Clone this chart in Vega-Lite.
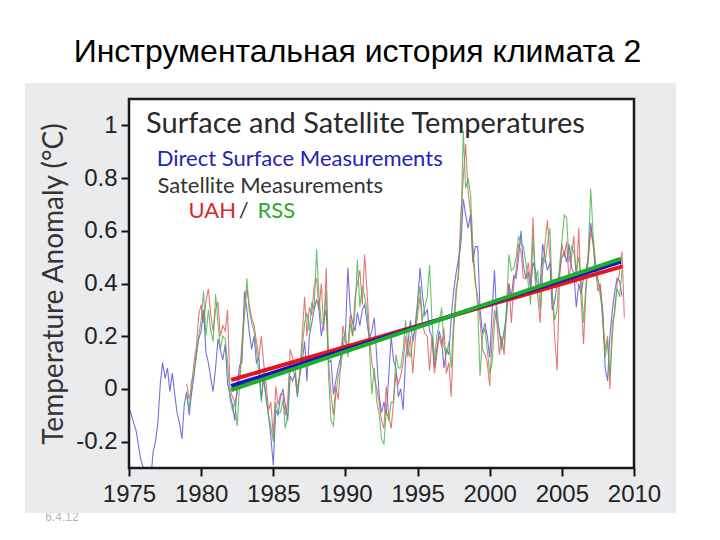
{
"$schema": "https://vega.github.io/schema/vega-lite/v6.json",
"width": 505, "height": 369,
"autosize": "none",
"padding": {"left": 129, "top": 99, "right": 86, "bottom": 72},
"background": "white",
"config": {"view": {"stroke": null}, "font": "Liberation Sans"},
"title": {"text": "Инструментальная история климата 2", "fontSize": 32, "font": "Liberation Sans", "fontWeight": "normal", "color": "#000000", "anchor": "middle", "dx": -24, "offset": 14},
"data": {"values": [{}]},
"datasets": {
"series": [
{"s":"Surface","t":1975.0,"v":-0.07},{"s":"Surface","t":1975.17,"v":-0.10},{"s":"Surface","t":1975.33,"v":-0.13},{"s":"Surface","t":1975.5,"v":-0.16},{"s":"Surface","t":1975.67,"v":-0.22},{"s":"Surface","t":1975.83,"v":-0.27},
{"s":"Surface","t":1976.0,"v":-0.30},{"s":"Surface","t":1976.17,"v":-0.36},{"s":"Surface","t":1976.33,"v":-0.31},{"s":"Surface","t":1976.5,"v":-0.35},{"s":"Surface","t":1976.67,"v":-0.24},{"s":"Surface","t":1976.83,"v":-0.20},
{"s":"Surface","t":1977.0,"v":-0.13},{"s":"Surface","t":1977.17,"v":0.02},{"s":"Surface","t":1977.33,"v":0.10},{"s":"Surface","t":1977.5,"v":0.04},{"s":"Surface","t":1977.67,"v":0.08},{"s":"Surface","t":1977.83,"v":-0.01},
{"s":"Surface","t":1978.0,"v":0.06},{"s":"Surface","t":1978.17,"v":-0.02},{"s":"Surface","t":1978.33,"v":-0.09},{"s":"Surface","t":1978.5,"v":-0.13},{"s":"Surface","t":1978.67,"v":-0.19},{"s":"Surface","t":1978.83,"v":-0.06},
{"s":"Surface","t":1979.0,"v":-0.01},{"s":"Surface","t":1979.17,"v":-0.10},{"s":"Surface","t":1979.33,"v":-0.02},{"s":"Surface","t":1979.5,"v":0.05},{"s":"Surface","t":1979.67,"v":0.14},{"s":"Surface","t":1979.83,"v":0.19},
{"s":"Surface","t":1980.0,"v":0.22},{"s":"Surface","t":1980.17,"v":0.30},{"s":"Surface","t":1980.33,"v":0.14},{"s":"Surface","t":1980.5,"v":0.10},{"s":"Surface","t":1980.67,"v":0.04},{"s":"Surface","t":1980.83,"v":-0.01},
{"s":"Surface","t":1981.0,"v":0.08},{"s":"Surface","t":1981.17,"v":0.19},{"s":"Surface","t":1981.33,"v":0.15},{"s":"Surface","t":1981.5,"v":0.11},{"s":"Surface","t":1981.67,"v":0.17},{"s":"Surface","t":1981.83,"v":0.02},
{"s":"Surface","t":1982.0,"v":-0.02},{"s":"Surface","t":1982.17,"v":-0.06},{"s":"Surface","t":1982.33,"v":-0.12},{"s":"Surface","t":1982.5,"v":0.02},{"s":"Surface","t":1982.67,"v":0.09},{"s":"Surface","t":1982.83,"v":0.10},
{"s":"Surface","t":1983.0,"v":0.37},{"s":"Surface","t":1983.17,"v":0.30},{"s":"Surface","t":1983.33,"v":0.22},{"s":"Surface","t":1983.5,"v":0.15},{"s":"Surface","t":1983.67,"v":0.20},{"s":"Surface","t":1983.83,"v":0.10},
{"s":"Surface","t":1984.0,"v":0.12},{"s":"Surface","t":1984.17,"v":-0.04},{"s":"Surface","t":1984.33,"v":0.04},{"s":"Surface","t":1984.5,"v":-0.03},{"s":"Surface","t":1984.67,"v":-0.10},{"s":"Surface","t":1984.83,"v":-0.18},
{"s":"Surface","t":1985.0,"v":-0.29},{"s":"Surface","t":1985.17,"v":-0.08},{"s":"Surface","t":1985.33,"v":-0.10},{"s":"Surface","t":1985.5,"v":-0.03},{"s":"Surface","t":1985.67,"v":0.00},{"s":"Surface","t":1985.83,"v":-0.06},
{"s":"Surface","t":1986.0,"v":-0.12},{"s":"Surface","t":1986.17,"v":0.05},{"s":"Surface","t":1986.33,"v":0.03},{"s":"Surface","t":1986.5,"v":0.06},{"s":"Surface","t":1986.67,"v":-0.03},{"s":"Surface","t":1986.83,"v":0.05},
{"s":"Surface","t":1987.0,"v":0.10},{"s":"Surface","t":1987.17,"v":0.18},{"s":"Surface","t":1987.33,"v":0.03},{"s":"Surface","t":1987.5,"v":0.20},{"s":"Surface","t":1987.67,"v":0.25},{"s":"Surface","t":1987.83,"v":0.30},
{"s":"Surface","t":1988.0,"v":0.34},{"s":"Surface","t":1988.17,"v":0.30},{"s":"Surface","t":1988.33,"v":0.20},{"s":"Surface","t":1988.5,"v":0.26},{"s":"Surface","t":1988.67,"v":0.30},{"s":"Surface","t":1988.83,"v":0.10},
{"s":"Surface","t":1989.0,"v":0.11},{"s":"Surface","t":1989.17,"v":-0.02},{"s":"Surface","t":1989.33,"v":0.03},{"s":"Surface","t":1989.5,"v":0.08},{"s":"Surface","t":1989.67,"v":0.12},{"s":"Surface","t":1989.83,"v":0.19},
{"s":"Surface","t":1990.0,"v":0.21},{"s":"Surface","t":1990.17,"v":0.46},{"s":"Surface","t":1990.33,"v":0.30},{"s":"Surface","t":1990.5,"v":0.25},{"s":"Surface","t":1990.67,"v":0.22},{"s":"Surface","t":1990.83,"v":0.29},
{"s":"Surface","t":1991.0,"v":0.24},{"s":"Surface","t":1991.17,"v":0.30},{"s":"Surface","t":1991.33,"v":0.32},{"s":"Surface","t":1991.5,"v":0.25},{"s":"Surface","t":1991.67,"v":0.19},{"s":"Surface","t":1991.83,"v":0.22},
{"s":"Surface","t":1992.0,"v":0.27},{"s":"Surface","t":1992.17,"v":0.12},{"s":"Surface","t":1992.33,"v":-0.02},{"s":"Surface","t":1992.5,"v":-0.09},{"s":"Surface","t":1992.67,"v":-0.05},{"s":"Surface","t":1992.83,"v":-0.10},
{"s":"Surface","t":1993.0,"v":0.05},{"s":"Surface","t":1993.17,"v":0.20},{"s":"Surface","t":1993.33,"v":0.11},{"s":"Surface","t":1993.5,"v":0.08},{"s":"Surface","t":1993.67,"v":-0.03},{"s":"Surface","t":1993.83,"v":0.00},
{"s":"Surface","t":1994.0,"v":-0.08},{"s":"Surface","t":1994.17,"v":0.12},{"s":"Surface","t":1994.33,"v":0.17},{"s":"Surface","t":1994.5,"v":0.26},{"s":"Surface","t":1994.67,"v":0.18},{"s":"Surface","t":1994.83,"v":0.24},
{"s":"Surface","t":1995.0,"v":0.33},{"s":"Surface","t":1995.17,"v":0.46},{"s":"Surface","t":1995.33,"v":0.36},{"s":"Surface","t":1995.5,"v":0.28},{"s":"Surface","t":1995.67,"v":0.30},{"s":"Surface","t":1995.83,"v":0.22},
{"s":"Surface","t":1996.0,"v":0.20},{"s":"Surface","t":1996.17,"v":0.08},{"s":"Surface","t":1996.33,"v":0.15},{"s":"Surface","t":1996.5,"v":0.22},{"s":"Surface","t":1996.67,"v":0.18},{"s":"Surface","t":1996.83,"v":0.08},
{"s":"Surface","t":1997.0,"v":0.15},{"s":"Surface","t":1997.17,"v":0.13},{"s":"Surface","t":1997.33,"v":0.27},{"s":"Surface","t":1997.5,"v":0.37},{"s":"Surface","t":1997.67,"v":0.44},{"s":"Surface","t":1997.83,"v":0.49},
{"s":"Surface","t":1998.0,"v":0.55},{"s":"Surface","t":1998.17,"v":0.72},{"s":"Surface","t":1998.33,"v":0.66},{"s":"Surface","t":1998.5,"v":0.61},{"s":"Surface","t":1998.67,"v":0.66},{"s":"Surface","t":1998.83,"v":0.48},
{"s":"Surface","t":1999.0,"v":0.54},{"s":"Surface","t":1999.17,"v":0.54},{"s":"Surface","t":1999.33,"v":0.30},{"s":"Surface","t":1999.5,"v":0.21},{"s":"Surface","t":1999.67,"v":0.25},{"s":"Surface","t":1999.83,"v":0.20},
{"s":"Surface","t":2000.0,"v":0.12},{"s":"Surface","t":2000.17,"v":0.30},{"s":"Surface","t":2000.33,"v":0.45},{"s":"Surface","t":2000.5,"v":0.26},{"s":"Surface","t":2000.67,"v":0.22},{"s":"Surface","t":2000.83,"v":0.16},
{"s":"Surface","t":2001.0,"v":0.22},{"s":"Surface","t":2001.17,"v":0.28},{"s":"Surface","t":2001.33,"v":0.40},{"s":"Surface","t":2001.5,"v":0.35},{"s":"Surface","t":2001.67,"v":0.43},{"s":"Surface","t":2001.83,"v":0.42},
{"s":"Surface","t":2002.0,"v":0.50},{"s":"Surface","t":2002.17,"v":0.60},{"s":"Surface","t":2002.33,"v":0.47},{"s":"Surface","t":2002.5,"v":0.42},{"s":"Surface","t":2002.67,"v":0.44},{"s":"Surface","t":2002.83,"v":0.38},
{"s":"Surface","t":2003.0,"v":0.48},{"s":"Surface","t":2003.17,"v":0.45},{"s":"Surface","t":2003.33,"v":0.38},{"s":"Surface","t":2003.5,"v":0.40},{"s":"Surface","t":2003.67,"v":0.55},{"s":"Surface","t":2003.83,"v":0.50},
{"s":"Surface","t":2004.0,"v":0.45},{"s":"Surface","t":2004.17,"v":0.48},{"s":"Surface","t":2004.33,"v":0.30},{"s":"Surface","t":2004.5,"v":0.33},{"s":"Surface","t":2004.67,"v":0.40},{"s":"Surface","t":2004.83,"v":0.44},
{"s":"Surface","t":2005.0,"v":0.50},{"s":"Surface","t":2005.17,"v":0.52},{"s":"Surface","t":2005.33,"v":0.48},{"s":"Surface","t":2005.5,"v":0.55},{"s":"Surface","t":2005.67,"v":0.46},{"s":"Surface","t":2005.83,"v":0.44},
{"s":"Surface","t":2006.0,"v":0.31},{"s":"Surface","t":2006.17,"v":0.40},{"s":"Surface","t":2006.33,"v":0.36},{"s":"Surface","t":2006.5,"v":0.42},{"s":"Surface","t":2006.67,"v":0.45},{"s":"Surface","t":2006.83,"v":0.50},
{"s":"Surface","t":2007.0,"v":0.63},{"s":"Surface","t":2007.17,"v":0.55},{"s":"Surface","t":2007.33,"v":0.45},{"s":"Surface","t":2007.5,"v":0.41},{"s":"Surface","t":2007.67,"v":0.38},{"s":"Surface","t":2007.83,"v":0.30},
{"s":"Surface","t":2008.0,"v":0.08},{"s":"Surface","t":2008.17,"v":0.03},{"s":"Surface","t":2008.33,"v":0.20},{"s":"Surface","t":2008.5,"v":0.30},{"s":"Surface","t":2008.67,"v":0.37},{"s":"Surface","t":2008.83,"v":0.42},
{"s":"Surface","t":2009.0,"v":0.41},{"s":"Surface","t":2009.17,"v":0.35},
{"s":"UAH","t":1979.0,"v":0.02},{"s":"UAH","t":1979.17,"v":-0.04},{"s":"UAH","t":1979.33,"v":0.00},{"s":"UAH","t":1979.5,"v":0.10},{"s":"UAH","t":1979.67,"v":0.16},{"s":"UAH","t":1979.83,"v":0.28},
{"s":"UAH","t":1980.0,"v":0.32},{"s":"UAH","t":1980.17,"v":0.25},{"s":"UAH","t":1980.33,"v":0.33},{"s":"UAH","t":1980.5,"v":0.38},{"s":"UAH","t":1980.67,"v":0.28},{"s":"UAH","t":1980.83,"v":0.22},
{"s":"UAH","t":1981.0,"v":0.30},{"s":"UAH","t":1981.17,"v":0.33},{"s":"UAH","t":1981.33,"v":0.20},{"s":"UAH","t":1981.5,"v":0.24},{"s":"UAH","t":1981.67,"v":0.22},{"s":"UAH","t":1981.83,"v":0.30},
{"s":"UAH","t":1982.0,"v":0.00},{"s":"UAH","t":1982.17,"v":-0.03},{"s":"UAH","t":1982.33,"v":-0.05},{"s":"UAH","t":1982.5,"v":-0.02},{"s":"UAH","t":1982.67,"v":0.05},{"s":"UAH","t":1982.83,"v":0.18},
{"s":"UAH","t":1983.0,"v":0.30},{"s":"UAH","t":1983.17,"v":0.38},{"s":"UAH","t":1983.33,"v":0.32},{"s":"UAH","t":1983.5,"v":0.27},{"s":"UAH","t":1983.67,"v":0.24},{"s":"UAH","t":1983.83,"v":0.18},
{"s":"UAH","t":1984.0,"v":0.12},{"s":"UAH","t":1984.17,"v":0.20},{"s":"UAH","t":1984.33,"v":0.10},{"s":"UAH","t":1984.5,"v":0.02},{"s":"UAH","t":1984.67,"v":-0.08},{"s":"UAH","t":1984.83,"v":-0.05},
{"s":"UAH","t":1985.0,"v":-0.18},{"s":"UAH","t":1985.17,"v":0.01},{"s":"UAH","t":1985.33,"v":-0.06},{"s":"UAH","t":1985.5,"v":-0.02},{"s":"UAH","t":1985.67,"v":-0.02},{"s":"UAH","t":1985.83,"v":-0.10},
{"s":"UAH","t":1986.0,"v":-0.05},{"s":"UAH","t":1986.17,"v":0.15},{"s":"UAH","t":1986.33,"v":0.12},{"s":"UAH","t":1986.5,"v":0.08},{"s":"UAH","t":1986.67,"v":0.00},{"s":"UAH","t":1986.83,"v":0.05},
{"s":"UAH","t":1987.0,"v":0.20},{"s":"UAH","t":1987.17,"v":0.35},{"s":"UAH","t":1987.33,"v":0.20},{"s":"UAH","t":1987.5,"v":0.31},{"s":"UAH","t":1987.67,"v":0.28},{"s":"UAH","t":1987.83,"v":0.39},
{"s":"UAH","t":1988.0,"v":0.42},{"s":"UAH","t":1988.17,"v":0.30},{"s":"UAH","t":1988.33,"v":0.40},{"s":"UAH","t":1988.5,"v":0.22},{"s":"UAH","t":1988.67,"v":0.46},{"s":"UAH","t":1988.83,"v":0.10},
{"s":"UAH","t":1989.0,"v":-0.02},{"s":"UAH","t":1989.17,"v":-0.10},{"s":"UAH","t":1989.33,"v":0.01},{"s":"UAH","t":1989.5,"v":-0.04},{"s":"UAH","t":1989.67,"v":0.10},{"s":"UAH","t":1989.83,"v":0.24},
{"s":"UAH","t":1990.0,"v":0.18},{"s":"UAH","t":1990.17,"v":0.15},{"s":"UAH","t":1990.33,"v":0.28},{"s":"UAH","t":1990.5,"v":0.20},{"s":"UAH","t":1990.67,"v":0.35},{"s":"UAH","t":1990.83,"v":0.40},
{"s":"UAH","t":1991.0,"v":0.45},{"s":"UAH","t":1991.17,"v":0.32},{"s":"UAH","t":1991.33,"v":0.51},{"s":"UAH","t":1991.5,"v":0.37},{"s":"UAH","t":1991.67,"v":0.20},{"s":"UAH","t":1991.83,"v":0.10},
{"s":"UAH","t":1992.0,"v":0.05},{"s":"UAH","t":1992.17,"v":0.00},{"s":"UAH","t":1992.33,"v":-0.05},{"s":"UAH","t":1992.5,"v":-0.12},{"s":"UAH","t":1992.67,"v":-0.15},{"s":"UAH","t":1992.83,"v":0.01},
{"s":"UAH","t":1993.0,"v":-0.10},{"s":"UAH","t":1993.17,"v":-0.15},{"s":"UAH","t":1993.33,"v":-0.05},{"s":"UAH","t":1993.5,"v":0.06},{"s":"UAH","t":1993.67,"v":0.02},{"s":"UAH","t":1993.83,"v":0.05},
{"s":"UAH","t":1994.0,"v":0.10},{"s":"UAH","t":1994.17,"v":0.20},{"s":"UAH","t":1994.33,"v":0.12},{"s":"UAH","t":1994.5,"v":0.20},{"s":"UAH","t":1994.67,"v":0.06},{"s":"UAH","t":1994.83,"v":0.18},
{"s":"UAH","t":1995.0,"v":0.28},{"s":"UAH","t":1995.17,"v":0.35},{"s":"UAH","t":1995.33,"v":0.25},{"s":"UAH","t":1995.5,"v":0.21},{"s":"UAH","t":1995.67,"v":0.20},{"s":"UAH","t":1995.83,"v":0.07},
{"s":"UAH","t":1996.0,"v":0.20},{"s":"UAH","t":1996.17,"v":0.06},{"s":"UAH","t":1996.33,"v":0.13},{"s":"UAH","t":1996.5,"v":0.20},{"s":"UAH","t":1996.67,"v":0.16},{"s":"UAH","t":1996.83,"v":0.23},
{"s":"UAH","t":1997.0,"v":0.06},{"s":"UAH","t":1997.17,"v":0.10},{"s":"UAH","t":1997.33,"v":-0.03},{"s":"UAH","t":1997.5,"v":0.22},{"s":"UAH","t":1997.67,"v":0.35},{"s":"UAH","t":1997.83,"v":0.45},
{"s":"UAH","t":1998.0,"v":0.66},{"s":"UAH","t":1998.17,"v":0.80},{"s":"UAH","t":1998.33,"v":0.93},{"s":"UAH","t":1998.5,"v":0.75},{"s":"UAH","t":1998.67,"v":0.67},{"s":"UAH","t":1998.83,"v":0.50},
{"s":"UAH","t":1999.0,"v":0.40},{"s":"UAH","t":1999.17,"v":0.35},{"s":"UAH","t":1999.33,"v":0.26},{"s":"UAH","t":1999.5,"v":0.15},{"s":"UAH","t":1999.67,"v":0.13},{"s":"UAH","t":1999.83,"v":0.10},
{"s":"UAH","t":2000.0,"v":0.01},{"s":"UAH","t":2000.17,"v":0.20},{"s":"UAH","t":2000.33,"v":0.30},{"s":"UAH","t":2000.5,"v":0.25},{"s":"UAH","t":2000.67,"v":0.13},{"s":"UAH","t":2000.83,"v":0.20},
{"s":"UAH","t":2001.0,"v":0.13},{"s":"UAH","t":2001.17,"v":0.30},{"s":"UAH","t":2001.33,"v":0.40},{"s":"UAH","t":2001.5,"v":0.25},{"s":"UAH","t":2001.67,"v":0.40},{"s":"UAH","t":2001.83,"v":0.45},
{"s":"UAH","t":2002.0,"v":0.55},{"s":"UAH","t":2002.17,"v":0.52},{"s":"UAH","t":2002.33,"v":0.42},{"s":"UAH","t":2002.5,"v":0.42},{"s":"UAH","t":2002.67,"v":0.48},{"s":"UAH","t":2002.83,"v":0.40},
{"s":"UAH","t":2003.0,"v":0.65},{"s":"UAH","t":2003.17,"v":0.40},{"s":"UAH","t":2003.33,"v":0.35},{"s":"UAH","t":2003.5,"v":0.25},{"s":"UAH","t":2003.67,"v":0.45},{"s":"UAH","t":2003.83,"v":0.55},
{"s":"UAH","t":2004.0,"v":0.64},{"s":"UAH","t":2004.17,"v":0.50},{"s":"UAH","t":2004.33,"v":0.37},{"s":"UAH","t":2004.5,"v":0.20},{"s":"UAH","t":2004.67,"v":0.07},{"s":"UAH","t":2004.83,"v":0.40},
{"s":"UAH","t":2005.0,"v":0.55},{"s":"UAH","t":2005.17,"v":0.50},{"s":"UAH","t":2005.33,"v":0.56},{"s":"UAH","t":2005.5,"v":0.41},{"s":"UAH","t":2005.67,"v":0.50},{"s":"UAH","t":2005.83,"v":0.58},
{"s":"UAH","t":2006.0,"v":0.40},{"s":"UAH","t":2006.17,"v":0.61},{"s":"UAH","t":2006.33,"v":0.35},{"s":"UAH","t":2006.5,"v":0.17},{"s":"UAH","t":2006.67,"v":0.37},{"s":"UAH","t":2006.83,"v":0.49},
{"s":"UAH","t":2007.0,"v":0.60},{"s":"UAH","t":2007.17,"v":0.55},{"s":"UAH","t":2007.33,"v":0.46},{"s":"UAH","t":2007.5,"v":0.37},{"s":"UAH","t":2007.67,"v":0.40},{"s":"UAH","t":2007.83,"v":0.25},
{"s":"UAH","t":2008.0,"v":0.15},{"s":"UAH","t":2008.17,"v":0.20},{"s":"UAH","t":2008.33,"v":0.00},{"s":"UAH","t":2008.5,"v":0.25},{"s":"UAH","t":2008.67,"v":0.29},{"s":"UAH","t":2008.83,"v":0.40},
{"s":"UAH","t":2009.0,"v":0.44},{"s":"UAH","t":2009.17,"v":0.52},{"s":"UAH","t":2009.33,"v":0.27},
{"s":"RSS","t":1979.0,"v":-0.03},{"s":"RSS","t":1979.17,"v":-0.08},{"s":"RSS","t":1979.33,"v":0.03},{"s":"RSS","t":1979.5,"v":0.06},{"s":"RSS","t":1979.67,"v":0.12},{"s":"RSS","t":1979.83,"v":0.20},
{"s":"RSS","t":1980.0,"v":0.26},{"s":"RSS","t":1980.17,"v":0.37},{"s":"RSS","t":1980.33,"v":0.20},{"s":"RSS","t":1980.5,"v":0.30},{"s":"RSS","t":1980.67,"v":0.22},{"s":"RSS","t":1980.83,"v":0.18},
{"s":"RSS","t":1981.0,"v":0.36},{"s":"RSS","t":1981.17,"v":0.25},{"s":"RSS","t":1981.33,"v":0.15},{"s":"RSS","t":1981.5,"v":0.20},{"s":"RSS","t":1981.67,"v":0.19},{"s":"RSS","t":1981.83,"v":0.10},
{"s":"RSS","t":1982.0,"v":-0.04},{"s":"RSS","t":1982.17,"v":-0.08},{"s":"RSS","t":1982.33,"v":-0.05},{"s":"RSS","t":1982.5,"v":-0.14},{"s":"RSS","t":1982.67,"v":0.02},{"s":"RSS","t":1982.83,"v":0.15},
{"s":"RSS","t":1983.0,"v":0.28},{"s":"RSS","t":1983.17,"v":0.42},{"s":"RSS","t":1983.33,"v":0.30},{"s":"RSS","t":1983.5,"v":0.25},{"s":"RSS","t":1983.67,"v":0.22},{"s":"RSS","t":1983.83,"v":0.15},
{"s":"RSS","t":1984.0,"v":0.06},{"s":"RSS","t":1984.17,"v":-0.05},{"s":"RSS","t":1984.33,"v":0.06},{"s":"RSS","t":1984.5,"v":-0.04},{"s":"RSS","t":1984.67,"v":-0.10},{"s":"RSS","t":1984.83,"v":-0.14},
{"s":"RSS","t":1985.0,"v":-0.20},{"s":"RSS","t":1985.17,"v":-0.05},{"s":"RSS","t":1985.33,"v":-0.09},{"s":"RSS","t":1985.5,"v":-0.09},{"s":"RSS","t":1985.67,"v":-0.04},{"s":"RSS","t":1985.83,"v":-0.15},
{"s":"RSS","t":1986.0,"v":-0.10},{"s":"RSS","t":1986.17,"v":0.10},{"s":"RSS","t":1986.33,"v":0.08},{"s":"RSS","t":1986.5,"v":0.05},{"s":"RSS","t":1986.67,"v":-0.02},{"s":"RSS","t":1986.83,"v":0.06},
{"s":"RSS","t":1987.0,"v":0.15},{"s":"RSS","t":1987.17,"v":0.25},{"s":"RSS","t":1987.33,"v":0.29},{"s":"RSS","t":1987.5,"v":0.22},{"s":"RSS","t":1987.67,"v":0.33},{"s":"RSS","t":1987.83,"v":0.30},
{"s":"RSS","t":1988.0,"v":0.53},{"s":"RSS","t":1988.17,"v":0.35},{"s":"RSS","t":1988.33,"v":0.25},{"s":"RSS","t":1988.5,"v":0.25},{"s":"RSS","t":1988.67,"v":0.37},{"s":"RSS","t":1988.83,"v":0.05},
{"s":"RSS","t":1989.0,"v":-0.12},{"s":"RSS","t":1989.17,"v":-0.14},{"s":"RSS","t":1989.33,"v":-0.02},{"s":"RSS","t":1989.5,"v":0.05},{"s":"RSS","t":1989.67,"v":0.08},{"s":"RSS","t":1989.83,"v":0.15},
{"s":"RSS","t":1990.0,"v":0.22},{"s":"RSS","t":1990.17,"v":0.12},{"s":"RSS","t":1990.33,"v":0.25},{"s":"RSS","t":1990.5,"v":0.20},{"s":"RSS","t":1990.67,"v":0.30},{"s":"RSS","t":1990.83,"v":0.49},
{"s":"RSS","t":1991.0,"v":0.31},{"s":"RSS","t":1991.17,"v":0.39},{"s":"RSS","t":1991.33,"v":0.35},{"s":"RSS","t":1991.5,"v":0.30},{"s":"RSS","t":1991.67,"v":0.15},{"s":"RSS","t":1991.83,"v":-0.02},
{"s":"RSS","t":1992.0,"v":0.08},{"s":"RSS","t":1992.17,"v":-0.05},{"s":"RSS","t":1992.33,"v":-0.09},{"s":"RSS","t":1992.5,"v":-0.19},{"s":"RSS","t":1992.67,"v":-0.21},{"s":"RSS","t":1992.83,"v":-0.08},
{"s":"RSS","t":1993.0,"v":-0.12},{"s":"RSS","t":1993.17,"v":-0.05},{"s":"RSS","t":1993.33,"v":-0.05},{"s":"RSS","t":1993.5,"v":0.13},{"s":"RSS","t":1993.67,"v":0.08},{"s":"RSS","t":1993.83,"v":0.08},
{"s":"RSS","t":1994.0,"v":0.15},{"s":"RSS","t":1994.17,"v":0.26},{"s":"RSS","t":1994.33,"v":0.16},{"s":"RSS","t":1994.5,"v":0.12},{"s":"RSS","t":1994.67,"v":0.18},{"s":"RSS","t":1994.83,"v":0.22},
{"s":"RSS","t":1995.0,"v":0.31},{"s":"RSS","t":1995.17,"v":0.39},{"s":"RSS","t":1995.33,"v":0.26},{"s":"RSS","t":1995.5,"v":0.31},{"s":"RSS","t":1995.67,"v":0.35},{"s":"RSS","t":1995.83,"v":0.47},
{"s":"RSS","t":1996.0,"v":0.26},{"s":"RSS","t":1996.17,"v":0.11},{"s":"RSS","t":1996.33,"v":0.20},{"s":"RSS","t":1996.5,"v":0.25},{"s":"RSS","t":1996.67,"v":0.31},{"s":"RSS","t":1996.83,"v":0.16},
{"s":"RSS","t":1997.0,"v":0.13},{"s":"RSS","t":1997.17,"v":0.18},{"s":"RSS","t":1997.33,"v":0.08},{"s":"RSS","t":1997.5,"v":0.26},{"s":"RSS","t":1997.67,"v":0.38},{"s":"RSS","t":1997.83,"v":0.42},
{"s":"RSS","t":1998.0,"v":0.60},{"s":"RSS","t":1998.17,"v":0.98},{"s":"RSS","t":1998.33,"v":0.76},{"s":"RSS","t":1998.5,"v":0.80},{"s":"RSS","t":1998.67,"v":0.74},{"s":"RSS","t":1998.83,"v":0.55},
{"s":"RSS","t":1999.0,"v":0.42},{"s":"RSS","t":1999.17,"v":0.31},{"s":"RSS","t":1999.33,"v":0.05},{"s":"RSS","t":1999.5,"v":0.20},{"s":"RSS","t":1999.67,"v":0.23},{"s":"RSS","t":1999.83,"v":0.15},
{"s":"RSS","t":2000.0,"v":0.06},{"s":"RSS","t":2000.17,"v":0.10},{"s":"RSS","t":2000.33,"v":0.25},{"s":"RSS","t":2000.5,"v":0.31},{"s":"RSS","t":2000.67,"v":0.21},{"s":"RSS","t":2000.83,"v":0.15},
{"s":"RSS","t":2001.0,"v":0.16},{"s":"RSS","t":2001.17,"v":0.32},{"s":"RSS","t":2001.33,"v":0.51},{"s":"RSS","t":2001.5,"v":0.45},{"s":"RSS","t":2001.67,"v":0.46},{"s":"RSS","t":2001.83,"v":0.50},
{"s":"RSS","t":2002.0,"v":0.58},{"s":"RSS","t":2002.17,"v":0.55},{"s":"RSS","t":2002.33,"v":0.54},{"s":"RSS","t":2002.5,"v":0.48},{"s":"RSS","t":2002.67,"v":0.40},{"s":"RSS","t":2002.83,"v":0.32},
{"s":"RSS","t":2003.0,"v":0.58},{"s":"RSS","t":2003.17,"v":0.41},{"s":"RSS","t":2003.33,"v":0.45},{"s":"RSS","t":2003.5,"v":0.30},{"s":"RSS","t":2003.67,"v":0.50},{"s":"RSS","t":2003.83,"v":0.48},
{"s":"RSS","t":2004.0,"v":0.55},{"s":"RSS","t":2004.17,"v":0.61},{"s":"RSS","t":2004.33,"v":0.37},{"s":"RSS","t":2004.5,"v":0.26},{"s":"RSS","t":2004.67,"v":0.30},{"s":"RSS","t":2004.83,"v":0.46},
{"s":"RSS","t":2005.0,"v":0.56},{"s":"RSS","t":2005.17,"v":0.66},{"s":"RSS","t":2005.33,"v":0.65},{"s":"RSS","t":2005.5,"v":0.48},{"s":"RSS","t":2005.67,"v":0.54},{"s":"RSS","t":2005.83,"v":0.52},
{"s":"RSS","t":2006.0,"v":0.45},{"s":"RSS","t":2006.17,"v":0.50},{"s":"RSS","t":2006.33,"v":0.42},{"s":"RSS","t":2006.5,"v":0.25},{"s":"RSS","t":2006.67,"v":0.40},{"s":"RSS","t":2006.83,"v":0.52},
{"s":"RSS","t":2007.0,"v":0.76},{"s":"RSS","t":2007.17,"v":0.58},{"s":"RSS","t":2007.33,"v":0.48},{"s":"RSS","t":2007.5,"v":0.42},{"s":"RSS","t":2007.67,"v":0.35},{"s":"RSS","t":2007.83,"v":0.29},
{"s":"RSS","t":2008.0,"v":0.12},{"s":"RSS","t":2008.17,"v":0.18},{"s":"RSS","t":2008.33,"v":0.05},{"s":"RSS","t":2008.5,"v":0.20},{"s":"RSS","t":2008.67,"v":0.32},{"s":"RSS","t":2008.83,"v":0.38},
{"s":"RSS","t":2009.0,"v":0.35},{"s":"RSS","t":2009.17,"v":0.45}
],
"trend": [
{"s":"UAH","t":1982.08,"v":0.034},{"s":"UAH","t":2009.2,"v":0.465},
{"s":"Surface","t":1982.08,"v":0.011},{"s":"Surface","t":2009.1,"v":0.483},
{"s":"RSS","t":1982.08,"v":-0.004},{"s":"RSS","t":2009.1,"v":0.494}
]
},
"layer": [
{"mark": {"type": "text", "align": "left", "baseline": "middle", "fontSize": 12, "color": "#b4b4b4", "font": "Liberation Sans"},
 "encoding": {"x": {"datum": 1969.2, "type": "quantitative", "scale": {"domain": [1975, 2010], "nice": false, "zero": false}, "axis": null},
  "y": {"datum": -0.486, "type": "quantitative", "scale": {"domain": [-0.3, 1.1], "nice": false, "zero": false}, "axis": null},
  "text": {"value": "6.4.12"}}},
{"mark": {"type": "rect", "color": "#e9ebed"},
 "encoding": {"x": {"datum": 1967.78, "type": "quantitative", "scale": {"domain": [1975, 2010], "nice": false, "zero": false}, "axis": null},
  "x2": {"datum": 2012.92},
  "y": {"datum": 1.161, "type": "quantitative", "scale": {"domain": [-0.3, 1.1], "nice": false, "zero": false}, "axis": null},
  "y2": {"datum": -0.471}}},
{"mark": {"type": "rect", "color": "#ffffff"},
 "encoding": {"x": {"datum": 1975, "type": "quantitative", "scale": {"domain": [1975, 2010], "nice": false, "zero": false}, "axis": null},
  "x2": {"datum": 2010},
  "y": {"datum": 1.1, "type": "quantitative", "scale": {"domain": [-0.3, 1.1], "nice": false, "zero": false}, "axis": null},
  "y2": {"datum": -0.3}}},
{"data": {"name": "series"},
 "mark": {"type": "line", "clip": true, "strokeWidth": 1.1, "opacity": 0.8},
 "encoding": {
  "x": {"field": "t", "type": "quantitative", "scale": {"domain": [1975, 2010], "nice": false, "zero": false},
   "axis": {"values": [1975, 1980, 1985, 1990, 1995, 2000, 2005, 2010], "format": "d", "title": null, "grid": false, "domain": false, "labelFontSize": 24, "labelFont": "Liberation Sans", "labelColor": "#222222", "tickSize": 8, "tickWidth": 2, "tickColor": "#111111", "labelPadding": 6, "labelFlush": false, "labelOverlap": false, "zindex": 1}},
  "y": {"field": "v", "type": "quantitative", "scale": {"domain": [-0.3, 1.1], "nice": false, "zero": false},
   "axis": {"values": [-0.2, 0, 0.2, 0.4, 0.6, 0.8, 1], "labelExpr": "'' + datum.value", "title": "Temperature Anomaly (°C)", "titleFont": "Lato", "titleFontSize": 28, "titleFontWeight": "normal", "titleColor": "#333333", "titlePadding": 7, "grid": false, "domain": false, "labelFontSize": 24, "labelFont": "Liberation Sans", "labelColor": "#222222", "tickSize": 8, "tickWidth": 2, "tickColor": "#111111", "labelPadding": 4, "labelFlush": false, "labelOverlap": false, "zindex": 1}},
  "color": {"field": "s", "type": "nominal", "scale": {"domain": ["Surface", "UAH", "RSS"], "range": ["#4f4fd6", "#e05555", "#48b048"]}, "legend": null}
 }},
{"data": {"name": "trend"},
 "mark": {"type": "line", "strokeWidth": 4},
 "encoding": {
  "x": {"field": "t", "type": "quantitative", "scale": {"domain": [1975, 2010], "nice": false, "zero": false}, "axis": null},
  "y": {"field": "v", "type": "quantitative", "scale": {"domain": [-0.3, 1.1], "nice": false, "zero": false}, "axis": null},
  "color": {"field": "s", "type": "nominal", "scale": {"domain": ["UAH", "Surface", "RSS"], "range": ["#e8141c", "#1414c4", "#1fae2a"]}, "legend": null}
 }},
{"mark": {"type": "rect", "filled": false, "stroke": "#1a1a1a", "strokeWidth": 2.5},
 "encoding": {"x": {"datum": 1975, "type": "quantitative", "scale": {"domain": [1975, 2010], "nice": false, "zero": false}, "axis": null},
  "x2": {"datum": 2010},
  "y": {"datum": 1.1, "type": "quantitative", "scale": {"domain": [-0.3, 1.1], "nice": false, "zero": false}, "axis": null},
  "y2": {"datum": -0.3}}},
{"mark": {"type": "text", "align": "left", "baseline": "alphabetic", "fontSize": 29, "font": "Lato", "color": "#2a2a2a"},
 "encoding": {"x": {"datum": 1976.18, "type": "quantitative", "scale": {"domain": [1975, 2010], "nice": false, "zero": false}, "axis": null},
  "y": {"datum": 0.97, "type": "quantitative", "scale": {"domain": [-0.3, 1.1], "nice": false, "zero": false}, "axis": null},
  "text": {"value": "Surface and Satellite Temperatures"}}},
{"mark": {"type": "text", "align": "left", "baseline": "alphabetic", "fontSize": 22, "font": "Lato", "color": "#2424b4"},
 "encoding": {"x": {"datum": 1976.92, "type": "quantitative", "scale": {"domain": [1975, 2010], "nice": false, "zero": false}, "axis": null},
  "y": {"datum": 0.845, "type": "quantitative", "scale": {"domain": [-0.3, 1.1], "nice": false, "zero": false}, "axis": null},
  "text": {"value": "Direct Surface Measurements"}}},
{"mark": {"type": "text", "align": "left", "baseline": "alphabetic", "fontSize": 22, "font": "Lato", "color": "#333333"},
 "encoding": {"x": {"datum": 1976.97, "type": "quantitative", "scale": {"domain": [1975, 2010], "nice": false, "zero": false}, "axis": null},
  "y": {"datum": 0.745, "type": "quantitative", "scale": {"domain": [-0.3, 1.1], "nice": false, "zero": false}, "axis": null},
  "text": {"value": "Satellite Measurements"}}},
{"mark": {"type": "text", "align": "left", "baseline": "alphabetic", "fontSize": 22, "font": "Lato", "color": "#d42a2a"},
 "encoding": {"x": {"datum": 1979.12, "type": "quantitative", "scale": {"domain": [1975, 2010], "nice": false, "zero": false}, "axis": null},
  "y": {"datum": 0.65, "type": "quantitative", "scale": {"domain": [-0.3, 1.1], "nice": false, "zero": false}, "axis": null},
  "text": {"value": "UAH"}}},
{"mark": {"type": "text", "align": "left", "baseline": "alphabetic", "fontSize": 22, "font": "Lato", "color": "#333333"},
 "encoding": {"x": {"datum": 1982.6, "type": "quantitative", "scale": {"domain": [1975, 2010], "nice": false, "zero": false}, "axis": null},
  "y": {"datum": 0.65, "type": "quantitative", "scale": {"domain": [-0.3, 1.1], "nice": false, "zero": false}, "axis": null},
  "text": {"value": "/"}}},
{"mark": {"type": "text", "align": "left", "baseline": "alphabetic", "fontSize": 22, "font": "Lato", "color": "#2aaa2a"},
 "encoding": {"x": {"datum": 1983.9, "type": "quantitative", "scale": {"domain": [1975, 2010], "nice": false, "zero": false}, "axis": null},
  "y": {"datum": 0.65, "type": "quantitative", "scale": {"domain": [-0.3, 1.1], "nice": false, "zero": false}, "axis": null},
  "text": {"value": "RSS"}}}
],
"resolve": {"scale": {"color": "independent"}, "axis": {"x": "independent", "y": "independent"}}
}
